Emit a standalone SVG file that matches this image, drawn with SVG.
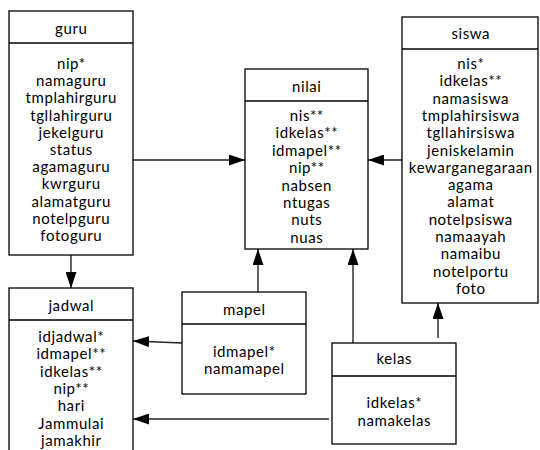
<svg xmlns="http://www.w3.org/2000/svg" width="540" height="450" viewBox="0 0 540 450">
<style>
.box{fill:#fff;stroke:#000;stroke-width:1.3}
.sep{stroke:#000;stroke-width:1.3}
.t{font-family:Lato,"Open Sans","Liberation Sans",sans-serif;font-size:15px;letter-spacing:0.6px;fill:#000;text-anchor:middle;dominant-baseline:central}
.c{stroke:#222;stroke-width:1.4;fill:none;marker-end:url(#ah)}
</style>
<defs>
<marker id="ah" markerUnits="userSpaceOnUse" markerWidth="16" markerHeight="11" viewBox="0 0 16 11" refX="16" refY="5.5" orient="auto">
<path d="M0,0 L16,5.5 L0,11 z" fill="#000"/>
</marker>
</defs>
<rect width="540" height="450" fill="#fff"/>
<g id="connectors">
<path class="c" d="M133,160 H245"/>
<path class="c" d="M402,160 H368"/>
<path class="c" d="M258,292 V249"/>
<path class="c" d="M353,343 V249"/>
<path class="c" d="M438,338 V303"/>
<path class="c" d="M71,255 V288"/>
<path class="c" d="M182,343 L133,341"/>
<path class="c" d="M329,419 H133"/>
</g>
<g id="guru">
<rect class="box" x="9" y="11" width="124" height="244"/>
<line class="sep" x1="9" y1="43" x2="133" y2="43"/>
<text class="t" x="71.3" y="28">guru</text>
<text class="t" x="71.3" y="63">nip*</text>
<text class="t" x="71.3" y="80.2">namaguru</text>
<text class="t" x="71.3" y="97.4">tmplahirguru</text>
<text class="t" x="71.3" y="114.6">tgllahirguru</text>
<text class="t" x="71.3" y="131.8">jekelguru</text>
<text class="t" x="71.3" y="149">status</text>
<text class="t" x="71.3" y="166.2">agamaguru</text>
<text class="t" x="71.3" y="183.4">kwrguru</text>
<text class="t" x="71.3" y="200.6">alamatguru</text>
<text class="t" x="71.3" y="217.8">notelpguru</text>
<text class="t" x="71.3" y="235">fotoguru</text>
</g>
<g id="nilai">
<rect class="box" x="245" y="69" width="123" height="180"/>
<line class="sep" x1="245" y1="101" x2="368" y2="101"/>
<text class="t" x="306.8" y="86">nilai</text>
<text class="t" x="306.8" y="115">nis**</text>
<text class="t" x="306.8" y="132.4">idkelas**</text>
<text class="t" x="306.8" y="149.8">idmapel**</text>
<text class="t" x="306.8" y="167.2">nip**</text>
<text class="t" x="306.8" y="184.6">nabsen</text>
<text class="t" x="306.8" y="202">ntugas</text>
<text class="t" x="306.8" y="219.4">nuts</text>
<text class="t" x="306.8" y="236.8">nuas</text>
</g>
<g id="siswa">
<rect class="box" x="402" y="17" width="136" height="286"/>
<line class="sep" x1="402" y1="49" x2="538" y2="49"/>
<text class="t" x="470.8" y="33">siswa</text>
<text class="t" x="470.8" y="63">nis*</text>
<text class="t" x="470.8" y="80.3">idkelas**</text>
<text class="t" x="470.8" y="97.6">namasiswa</text>
<text class="t" x="470.8" y="114.9">tmplahirsiswa</text>
<text class="t" x="470.8" y="132.2">tgllahirsiswa</text>
<text class="t" x="470.8" y="149.5">jeniskelamin</text>
<text class="t" x="470.8" y="166.8">kewarganegaraan</text>
<text class="t" x="470.8" y="184.1">agama</text>
<text class="t" x="470.8" y="201.4">alamat</text>
<text class="t" x="470.8" y="218.7">notelpsiswa</text>
<text class="t" x="470.8" y="236">namaayah</text>
<text class="t" x="470.8" y="253.3">namaibu</text>
<text class="t" x="470.8" y="270.6">notelportu</text>
<text class="t" x="470.8" y="287.9">foto</text>
</g>
<g id="jadwal">
<rect class="box" x="9" y="288" width="124" height="180"/>
<line class="sep" x1="9" y1="320" x2="133" y2="320"/>
<text class="t" x="71.3" y="305">jadwal</text>
<text class="t" x="71.3" y="336">idjadwal*</text>
<text class="t" x="71.3" y="353.3">idmapel**</text>
<text class="t" x="71.3" y="370.6">idkelas**</text>
<text class="t" x="71.3" y="387.9">nip**</text>
<text class="t" x="71.3" y="405.2">hari</text>
<text class="t" x="71.3" y="422.5">Jammulai</text>
<text class="t" x="71.3" y="439.8">jamakhir</text>
</g>
<g id="mapel">
<rect class="box" x="182" y="292" width="124" height="102"/>
<line class="sep" x1="182" y1="324" x2="306" y2="324"/>
<text class="t" x="244.3" y="309">mapel</text>
<text class="t" x="244.3" y="350.5">idmapel*</text>
<text class="t" x="244.3" y="368">namamapel</text>
</g>
<g id="kelas">
<rect class="box" x="332" y="343" width="124" height="101"/>
<line class="sep" x1="332" y1="376" x2="456" y2="376"/>
<text class="t" x="394.3" y="358">kelas</text>
<text class="t" x="394.3" y="402">idkelas*</text>
<text class="t" x="394.3" y="419.5">namakelas</text>
</g>
</svg>
